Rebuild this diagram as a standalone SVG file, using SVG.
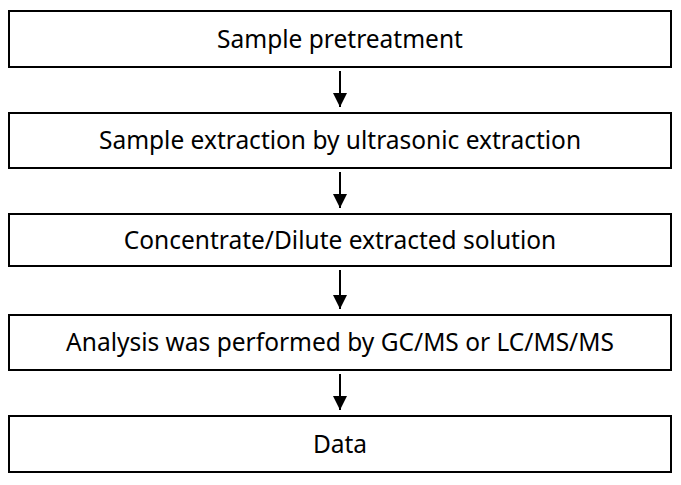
<svg xmlns="http://www.w3.org/2000/svg" width="681" height="485" viewBox="0 0 681 485">
<style>
.box{fill:#fff;stroke:#000;stroke-width:2}
.lbl{font-family:"Noto Sans","Open Sans","DejaVu Sans",sans-serif;font-size:24.5px;fill:#000;text-anchor:middle}
.conn line{stroke:#000;stroke-width:2}
</style>
<defs>
<marker id="ah" viewBox="0 0 14 14" refX="14" refY="7" markerWidth="14" markerHeight="14" markerUnits="userSpaceOnUse" orient="auto">
<path d="M0,0 L14,7 L0,14 Z" fill="#000"/>
</marker>
</defs>
<rect width="681" height="485" fill="#fff"/>
<g id="n1"><rect class="box" x="9" y="11" width="662" height="56"/><text class="lbl" x="340" y="48">Sample pretreatment</text></g>
<g id="n2"><rect class="box" x="9" y="113" width="662" height="55"/><text class="lbl" x="340" y="149">Sample extraction by ultrasonic extraction</text></g>
<g id="n3"><rect class="box" x="9" y="214" width="662" height="52"/><text class="lbl" x="340" y="249">Concentrate/Dilute extracted solution</text></g>
<g id="n4"><rect class="box" x="9" y="315" width="662" height="55"/><text class="lbl" x="340" y="351">Analysis was performed by GC/MS or LC/MS/MS</text></g>
<g id="n5"><rect class="box" x="9" y="416" width="662" height="56"/><text class="lbl" x="340" y="453">Data</text></g>
<g id="connectors" class="conn">
<line x1="340" y1="71" x2="340" y2="107" marker-end="url(#ah)"/>
<line x1="340" y1="172" x2="340" y2="208" marker-end="url(#ah)"/>
<line x1="340" y1="270" x2="340" y2="309" marker-end="url(#ah)"/>
<line x1="340" y1="374" x2="340" y2="410" marker-end="url(#ah)"/>
</g>
</svg>
